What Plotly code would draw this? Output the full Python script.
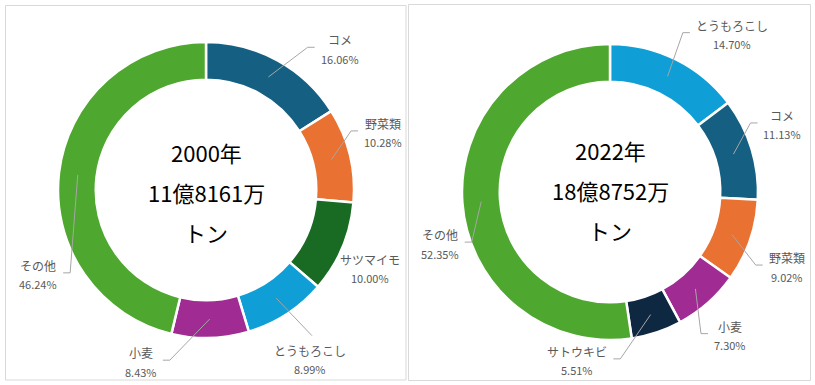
import math
import plotly.graph_objects as go

W, H = 815, 385

# ---------------- data ----------------
labels_2000 = ["コメ", "野菜類", "サツマイモ", "とうもろこし", "小麦", "その他"]
values_2000 = [16.06, 10.28, 10.00, 8.99, 8.43, 46.24]
center_2000 = ["2000年", "11億8161万", "トン"]

labels_2022 = ["とうもろこし", "コメ", "野菜類", "小麦", "サトウキビ", "その他"]
values_2022 = [14.70, 11.13, 9.02, 7.30, 5.51, 52.35]
center_2022 = ["2022年", "18億8752万", "トン"]

COLORS = {
    "コメ": "#156082",
    "野菜類": "#E97132",
    "サツマイモ": "#196B24",
    "とうもろこし": "#0F9ED5",
    "小麦": "#A02B93",
    "その他": "#4EA72E",
    "サトウキビ": "#0E2841",
}

# ---------------- layout (positions / styles) ----------------
FONT = "Noto Sans CJK JP, Noto Sans, sans-serif"
LABEL_COLOR = "#595959"
LEADER_COLOR = "#a6a6a6"
R = 148
HOLE = 0.745

# label placement nudges: (angle offset deg, distance px, leader mode)
charts = [
    dict(labels=labels_2000, values=values_2000, center=center_2000,
         cx=206, cy=190, text_cy=192,
         nudge={"コメ": (14.6, 194, "side"), "野菜類": (-4.2, 186, "side"),
                "サツマイモ": (2.9, 182, None), "とうもろこし": (1.5, 199, "top"),
                "小麦": (22.3, 184, "side"), "その他": (-33.6, 188, "side")}),
    dict(labels=labels_2022, values=values_2022, center=center_2022,
         cx=610, cy=192, text_cy=190,
         nudge={"とうもろこし": (11.3, 199, "side"), "コメ": (-4.2, 185, "side"),
                "野菜類": (3.8, 192, "side"), "小麦": (1.6, 187, "side"),
                "サトウキビ": (29.3, 172, "side"), "その他": (-12.8, 178, "side")}),
]


def px(x):
    return x / W


def py(y):
    return 1 - y / H


def text_w(s, cjk=12.0, other=6.3):
    return sum(cjk if ord(c) > 0x2E80 else other for c in s)


fig = go.Figure()
annotations = []
shapes = [
    dict(type="rect", xref="paper", yref="paper", x0=px(5.5), y0=py(5.5), x1=px(406), y1=py(380),
         line=dict(color="#d9d9d9", width=1), fillcolor="rgba(0,0,0,0)"),
    dict(type="rect", xref="paper", yref="paper", x0=px(408.5), y0=py(4.5), x1=px(810.5), y1=py(380.5),
         line=dict(color="#d9d9d9", width=1), fillcolor="rgba(0,0,0,0)"),
]

for ch in charts:
    cx, cy = ch["cx"], ch["cy"]
    fig.add_trace(go.Pie(
        labels=ch["labels"], values=ch["values"],
        marker=dict(colors=[COLORS[l] for l in ch["labels"]], line=dict(color="white", width=2.5)),
        hole=HOLE, sort=False, direction="clockwise", rotation=0,
        textinfo="none", hoverinfo="label+percent", showlegend=False,
        domain=dict(x=[px(cx - R), px(cx + R)], y=[py(cy + R), py(cy - R)]),
    ))

    # center text
    for i, line in enumerate(ch["center"]):
        annotations.append(dict(
            x=px(cx), y=py(ch["text_cy"] + (i - 1) * 40), xref="paper", yref="paper",
            text=line, showarrow=False, xanchor="center", yanchor="middle",
            font=dict(family=FONT, size=22, color="#000000"),
        ))

    total = sum(ch["values"])
    cum = 0.0
    r_mid = R * (1 + HOLE) / 2
    for lab, val in zip(ch["labels"], ch["values"]):
        mid = (cum + val / 2) / total * 360.0
        cum += val
        d_ang, dist, mode = ch["nudge"][lab]
        a = math.radians(mid + d_ang)
        lx = cx + dist * math.sin(a)
        ly = cy - dist * math.cos(a)
        pct = f"{val:.2f}%"

        annotations.append(dict(
            x=px(lx), y=py(ly - 9.5), xref="paper", yref="paper", text=lab,
            showarrow=False, xanchor="center", yanchor="middle",
            font=dict(family=FONT, size=12, color=LABEL_COLOR)))
        annotations.append(dict(
            x=px(lx), y=py(ly + 9.5), xref="paper", yref="paper", text=pct,
            showarrow=False, xanchor="center", yanchor="middle",
            font=dict(family=FONT, size=11, color=LABEL_COLOR)))

        if mode is None:
            continue
        am = math.radians(mid)
        sx = cx + r_mid * math.sin(am)
        sy = cy - r_mid * math.cos(am)
        if mode == "top":
            ex, ey = lx + 2, ly - 24
            path = f"M {px(sx)},{py(sy)} L {px(ex)},{py(ey)}"
        else:
            halfw = max(text_w(lab), text_w(pct)) / 2
            s = 1 if lx > cx else -1
            ex = lx - s * (halfw + 6)
            ey = ly - 2
            kx = ex - s * 7
            path = f"M {px(sx)},{py(sy)} L {px(kx)},{py(ey)} L {px(ex)},{py(ey)}"
        shapes.append(dict(type="path", xref="paper", yref="paper", path=path,
                           line=dict(color=LEADER_COLOR, width=1)))

fig.update_layout(
    width=W, height=H,
    margin=dict(l=0, r=0, t=0, b=0),
    paper_bgcolor="white", plot_bgcolor="white",
    annotations=annotations, shapes=shapes,
    font=dict(family=FONT),
)

fig.write_html("out.html", config={"displayModeBar": False},
               post_script="document.body.style.margin='0px';document.body.style.overflow='hidden';")
